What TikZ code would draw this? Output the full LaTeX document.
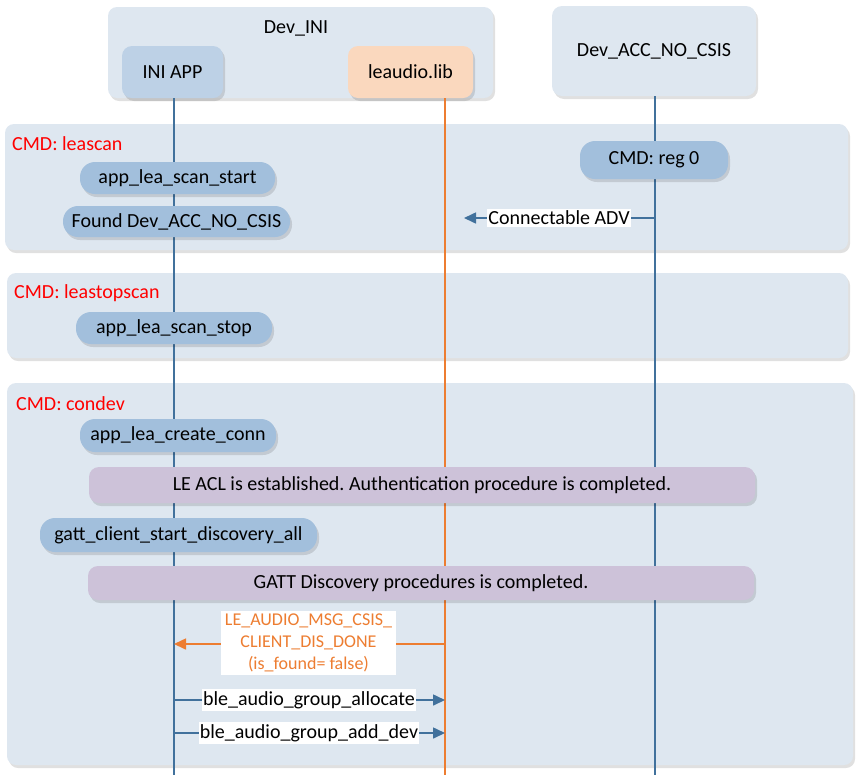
\documentclass[tikz,border=0pt]{standalone}
\usepackage{fontspec}
\setmainfont{Carlito}
\frenchspacing
\usetikzlibrary{arrows.meta,shadows}
\definecolor{secfill}{HTML}{DEE7F0}
\definecolor{iniapp}{HTML}{BDD1E6}
\definecolor{peach}{HTML}{FAD8BE}
\definecolor{pill}{HTML}{A2BFDC}
\definecolor{purp}{HTML}{CDC2D9}
\definecolor{lifeblue}{HTML}{41719C}
\definecolor{orng}{HTML}{ED7D31}
\definecolor{cmdred}{HTML}{FF0000}
\tikzset{
  x=1pt,y=-1pt,
  every node/.style={font=\fontsize{20}{22}\selectfont, inner sep=0pt},
  shad/.style={drop shadow={shadow xshift=2pt,shadow yshift=-3pt,opacity=0.12,fill=black}},
  section/.style={shad, fill=secfill, rounded corners=9pt},
  actor/.style={shad, rounded corners=10pt},
  pillbox/.style={shad, fill=pill, rounded corners=15pt},
  barbox/.style={shad, fill=purp, rounded corners=10pt},
  lifeline/.style={draw=lifeblue, line width=1.2pt},
  olifeline/.style={draw=orng, line width=1.2pt},
  msg/.style={draw=lifeblue, line width=1.6pt, -{Triangle[length=12pt,width=11pt]}},
  omsg/.style={draw=orng, line width=1.6pt, -{Triangle[length=12pt,width=11pt]}},
  lbl/.style={fill=white, inner xsep=1pt, inner ysep=2pt},
  cmd/.style={text=cmdred, anchor=west},
}
\begin{document}
\begin{tikzpicture}
\useasboundingbox (0,0) rectangle (867,777);
% sections
\path[section] (5,124) rectangle (848,250);
\path[section] (7,273) rectangle (848,358);
\path[section] (7,383) rectangle (853,765);
\node[cmd] (c1) at (12,144) {CMD: leascan};
\node[cmd] (c2) at (14,293) {CMD: leastopscan};
\node[cmd] (c3) at (16,404) {CMD: condev};
% actors
\path[section] (108,7) rectangle (493,98);
\node (devini) at (296,28) {Dev\_INI};
\node[actor, fill=iniapp, minimum width=101pt, minimum height=52pt] (app) at (172.5,72) {INI APP};
\node[actor, fill=peach, minimum width=125pt, minimum height=52pt] (lib) at (410.5,72) {leaudio.lib};
\node[actor, fill=secfill, minimum width=204pt, minimum height=90pt] (acc) at (654,51) {Dev\_ACC\_NO\_CSIS};
% lifelines
\coordinate (append) at (174,775);
\coordinate (libend) at (445,775);
\coordinate (accend) at (655,775);
\draw[lifeline] (app.south -| append) -- (append);
\draw[olifeline] (lib.south -| libend) -- (libend);
\draw[lifeline] (acc.south -| accend) -- (accend);
% section 1
\node[pillbox, minimum width=148pt, minimum height=38pt] (reg) at (654,160) {CMD: reg 0};
\node[pillbox, minimum width=195pt, minimum height=32pt] (scanstart) at (177.5,178) {app\_lea\_scan\_start};
\node[pillbox, minimum width=227pt, minimum height=31pt] (found) at (176.5,221.5) {Found Dev\_ACC\_NO\_CSIS};
\coordinate (advs) at (655,218);
\coordinate (adve) at (464,218);
\draw[msg] (advs) -- (adve);
\node[lbl] (adv) at (559,218) {Connectable ADV};
% section 2
\node[pillbox, minimum width=196pt, minimum height=32pt] (scanstop) at (174,328) {app\_lea\_scan\_stop};
% section 3
\node[pillbox, minimum width=196pt, minimum height=33pt] (create) at (178,435.5) {app\_lea\_create\_conn};
\node[barbox, minimum width=666pt, minimum height=36pt] (acl) at (422,485) {LE ACL is established. Authentication procedure is completed.};
\node[pillbox, minimum width=277pt, minimum height=34pt] (disc) at (178.5,535) {gatt\_client\_start\_discovery\_all};
\node[barbox, minimum width=666pt, minimum height=34pt] (gatt) at (421,583) {GATT Discovery procedures is completed.};
\coordinate (o1) at (445,644);
\coordinate (o2) at (174,644);
\draw[omsg] (o1) -- (o2);
\node[lbl, text=orng, align=center, inner xsep=4pt, inner ysep=3pt, font=\fontsize{18}{22}\selectfont] (csis) at (308.5,643) {LE\_AUDIO\_MSG\_CSIS\_\\CLIENT\_DIS\_DONE\\(is\_found= false)};
\coordinate (a1) at (174,700);
\coordinate (a2) at (445,700);
\draw[msg] (a1) -- (a2);
\node[lbl] (alloc) at (309,700) {ble\_audio\_group\_allocate};
\coordinate (b1) at (174,733);
\coordinate (b2) at (445,733);
\draw[msg] (b1) -- (b2);
\node[lbl] (adddev) at (309,733) {ble\_audio\_group\_add\_dev};
\end{tikzpicture}
\end{document}
